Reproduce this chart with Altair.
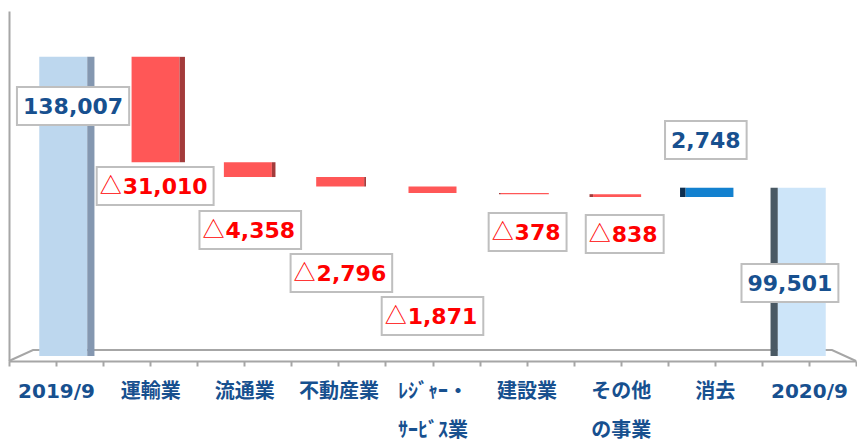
import json
import altair as alt
import pandas as pd

# ---- data ----
categories = ["2019/9", "運輸業", "流通業", "不動産業", "ﾚｼﾞｬｰ・|ｻｰﾋﾞｽ業",
              "建設業", "その他|の事業", "消去", "2020/9"]
values = [138007, -31010, -4358, -2796, -1871, -378, -838, 2748, 99501]
kinds = ["total", "delta", "delta", "delta", "delta", "delta", "delta", "delta", "total"]
label_texts = ["138,007", "△31,010", "△4,358", "△2,796", "△1,871",
               "△378", "△838", "2,748", "99,501"]
# annotation placement (value at label-box centre, horizontal nudge in px)
label_y = [123540, 100000, 87050, 74400, 61740, 86460, 85870, 113540, 71450]
label_dx = [17, 5, 6, 3, 0, 1, 4, -9, -19]

# ---- styling ----
W, H = 847, 350
Y_DOMAIN = [48500, 151500]
FLOOR = 50000
PXU = W / len(categories)               # px per category
K = H / (Y_DOMAIN[1] - Y_DOMAIN[0])     # px per value unit
HALF_BAR = 24
PERSP = 1.8
front_colors = {"first": "#BDD7EE", "neg": "#FF5757", "pos": "#1381CF", "last": "#CDE5F9"}
side_colors = {"first": "#8497B0", "neg": "#A33B3B", "pos": "#0E2F50", "last": "#4A5964"}
BLUE_TXT = "#17508F"
RED_TXT = "#FF0000"
FONT = "DejaVu Sans, Noto Sans CJK JP"
TRI_FONT = "Noto Sans CJK JP"

rows = []
running = 0
n = len(categories)
for i, (cat, v, kd) in enumerate(zip(categories, values, kinds)):
    if kd == "total":
        y0, y1 = FLOOR, v
        running = v
        role = "first" if i == 0 else "last"
    else:
        y0, y1 = running, running + v
        running += v
        role = "neg" if v < 0 else "pos"
    mid = 4
    c = i + 0.5 - (i - mid) * PERSP / PXU
    fx0, fx1 = c - HALF_BAR / PXU, c + HALF_BAR / PXU
    sw = abs(i - mid) * PERSP / PXU
    if i < mid:
        sx0, sx1 = fx1, fx1 + sw
    else:
        sx0, sx1 = fx0 - sw, fx0
    t = label_texts[i]
    tw = (sum(ch.isdigit() for ch in t) * 15.3 + t.count(",") * 8.4
          + t.count("△") * 20 + 12)
    lx = i + 0.5 + label_dx[i] / PXU
    ly = label_y[i]
    rows.append(dict(
        cat=cat, y0=y0, y1=y1, fx0=fx0, fx1=fx1, sx0=sx0, sx1=sx1,
        front=front_colors[role], side=side_colors[role],
        lx=lx, ly=ly, num=t.replace("△", ""), tri="△" if "△" in t else "",
        tcol=RED_TXT if "△" in t else BLUE_TXT,
        bx0=lx - tw / 2 / PXU, bx1=lx + tw / 2 / PXU,
        by0=ly - 19 / K, by1=ly + 19 / K,
    ))
df = pd.DataFrame(rows)

# 3D floor back edge
DEPTH = 11 / K
INSET = 24 / PXU
floor_df = pd.DataFrame({
    "fx": [0, INSET, n - INSET, n],
    "fy": [Y_DOMAIN[0], Y_DOMAIN[0] + DEPTH, Y_DOMAIN[0] + DEPTH, Y_DOMAIN[0]],
    "o": [0, 1, 2, 3],
})

arr = json.dumps(categories, ensure_ascii=False)
label_expr = f"(datum.value * 2) % 2 == 1 ? split({arr}[floor(datum.value)], '|') : ''"

x_axis = alt.Axis(
    values=[i / 2 for i in range(2 * n + 1)], labelExpr=label_expr, title=None,
    grid=False, domainColor="#A6A6A6", domainWidth=2, tickColor="#A6A6A6",
    tickWidth=2, tickSize=5, labelPadding=15, labelFont=FONT, labelFontSize=20,
    labelFontWeight="bold", labelColor=BLUE_TXT, labelLineHeight=39,
    labelOverlap=False, labelFlush=False, labelBound=False, labelAngle=0,
)
y_axis = alt.Axis(labels=False, ticks=False, grid=False, title=None,
                  domainColor="#A6A6A6", domainWidth=2)
xs = alt.Scale(domain=[0, n], nice=False, zero=False)
ys = alt.Scale(domain=Y_DOMAIN, nice=False, zero=False)


def X(f):
    return alt.X(f"{f}:Q", scale=xs, axis=x_axis)


def Y(f):
    return alt.Y(f"{f}:Q", scale=ys, axis=y_axis)


base = alt.Chart(df)

floor = alt.Chart(floor_df).mark_line(color="#A6A6A6", strokeWidth=2).encode(
    x=X("fx"), y=Y("fy"), order="o:Q")

front = base.mark_rect().encode(
    x=X("fx0"), x2="fx1", y=Y("y0"), y2="y1",
    color=alt.Color("front:N", scale=None))

side = base.mark_rect().encode(
    x=X("sx0"), x2="sx1", y=Y("y0"), y2="y1",
    color=alt.Color("side:N", scale=None))

boxes = base.mark_rect(fill="white", stroke="#BFBFBF", strokeWidth=2).encode(
    x=X("bx0"), x2="bx1", y=Y("by0"), y2="by1")

nums = base.mark_text(font=FONT, fontSize=22, fontWeight="bold",
                      baseline="middle", align="right", dx=-6, dy=1).encode(
    x=X("bx1"), y=Y("ly"), text="num:N",
    color=alt.Color("tcol:N", scale=None))

tris = base.transform_filter("datum.tri != ''").mark_text(
    font=TRI_FONT, fontSize=22, fontWeight="normal",
    baseline="middle", align="left", dx=3, dy=0).encode(
    x=X("bx0"), y=Y("ly"), text="tri:N",
    color=alt.Color("tcol:N", scale=None))

chart = alt.layer(floor, front, side, boxes, nums, tris).properties(
    width=W, height=H,
    autosize=alt.AutoSizeParams(type="none"),
    padding={"left": 1, "right": 1, "top": 3, "bottom": 84},
).configure_view(strokeWidth=0)

chart.save("out.html", embed_options={"renderer": "svg", "actions": False})
